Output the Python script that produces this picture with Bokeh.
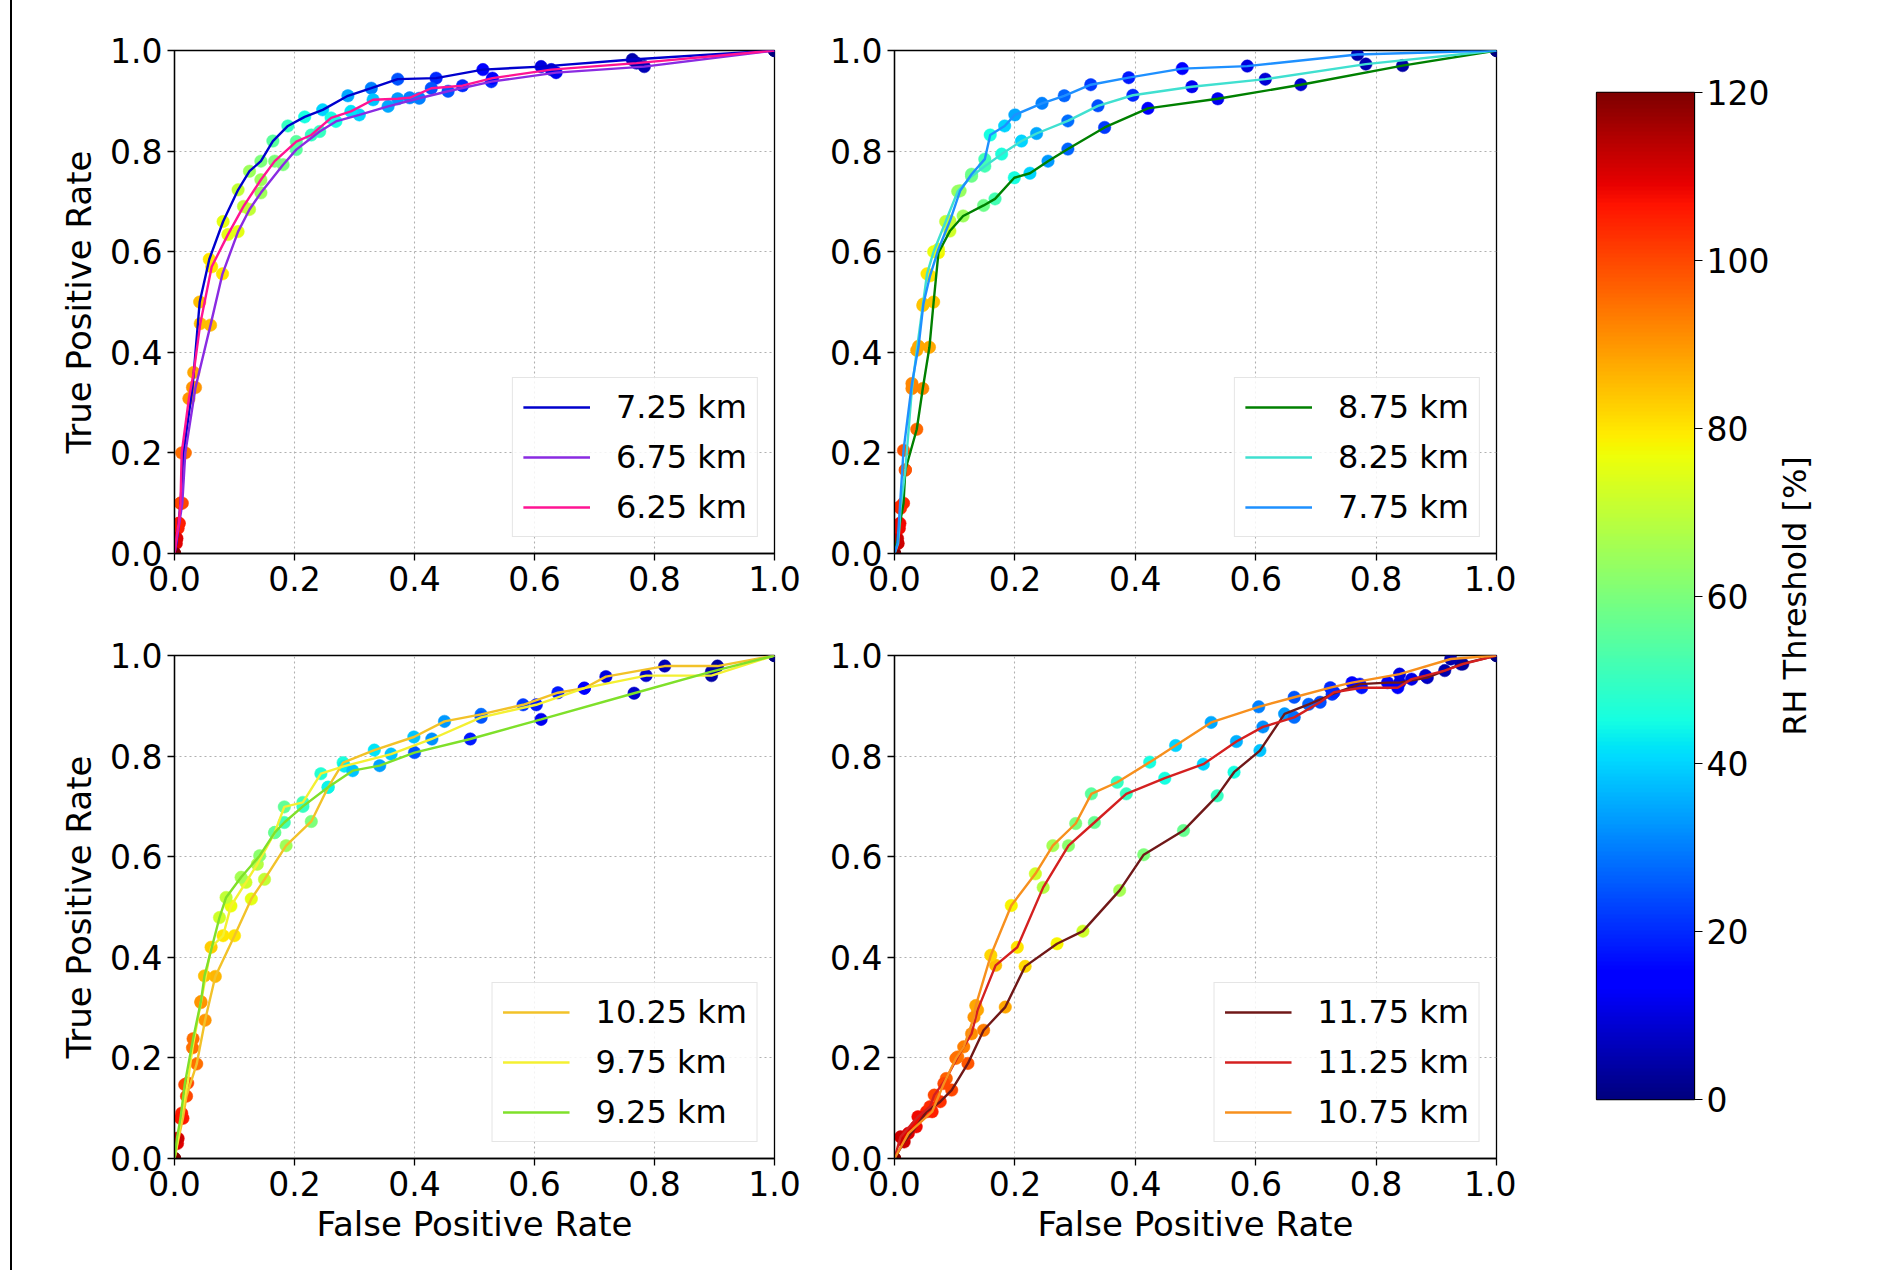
import numpy as np
from bokeh.plotting import figure
from bokeh.models import (Legend, LegendItem, LinearColorMapper, ColumnDataSource,
                          FixedTicker, NumeralTickFormatter, Range1d, Div)
from bokeh.layouts import row, column
from bokeh.transform import linear_cmap
from bokeh.embed import file_html
from bokeh.resources import INLINE

# ---------------- data ----------------
TICKS = [0.0, 0.2, 0.4, 0.6, 0.8, 1.0]
CB_TICKS = [0, 20, 40, 60, 80, 100, 120]

# top-left panel
FPR_725 = [0.0, 0.003, 0.006, 0.010, 0.015, 0.030, 0.042, 0.058, 0.081, 0.106, 0.125, 0.144, 0.164, 0.189, 0.217, 0.247, 0.289, 0.328, 0.372, 0.436, 0.514, 0.611, 0.763, 1.0]
TPR_725 = [0.0, 0.02, 0.05, 0.10, 0.20, 0.33, 0.50, 0.585, 0.66, 0.723, 0.76, 0.78, 0.82, 0.85, 0.868, 0.882, 0.91, 0.925, 0.943, 0.945, 0.962, 0.968, 0.982, 1.0]
THR_725 = [120, 110, 105, 100, 95, 90, 85, 80, 75, 70, 65, 60, 55, 50, 45, 40, 35, 30, 25, 20, 15, 10, 5, 0]

FPR_675 = [0.0, 0.004, 0.008, 0.013, 0.018, 0.035, 0.060, 0.080, 0.106, 0.125, 0.144, 0.181, 0.203, 0.242, 0.269, 0.308, 0.356, 0.408, 0.456, 0.528, 0.636, 0.783, 1.0]
TPR_675 = [0.0, 0.03, 0.06, 0.10, 0.20, 0.33, 0.454, 0.556, 0.64, 0.684, 0.717, 0.773, 0.803, 0.839, 0.859, 0.872, 0.889, 0.905, 0.919, 0.938, 0.956, 0.968, 1.0]
THR_675 = [120, 110, 105, 100, 95, 90, 85, 80, 75, 70, 65, 60, 55, 50, 45, 40, 35, 30, 25, 20, 12, 6, 0]

FPR_625 = [0.0, 0.003, 0.007, 0.010, 0.012, 0.024, 0.032, 0.043, 0.062, 0.089, 0.115, 0.144, 0.167, 0.203, 0.228, 0.261, 0.294, 0.331, 0.372, 0.392, 0.428, 0.480, 0.530, 0.628, 0.770, 1.0]
TPR_625 = [0.0, 0.03, 0.06, 0.10, 0.20, 0.308, 0.36, 0.457, 0.57, 0.634, 0.69, 0.743, 0.78, 0.819, 0.832, 0.866, 0.879, 0.902, 0.904, 0.906, 0.925, 0.93, 0.945, 0.962, 0.975, 1.0]
THR_625 = [120, 110, 105, 100, 95, 90, 88, 85, 80, 75, 70, 65, 60, 55, 50, 45, 42, 38, 33, 30, 25, 20, 15, 10, 5, 0]

# top-right panel
FPR_875 = [0.0, 0.005, 0.009, 0.015, 0.018, 0.037, 0.047, 0.058, 0.065, 0.073, 0.092, 0.114, 0.148, 0.167, 0.199, 0.225, 0.255, 0.288, 0.349, 0.421, 0.537, 0.675, 0.844, 1.0]
TPR_875 = [0.0, 0.03, 0.06, 0.10, 0.166, 0.247, 0.328, 0.41, 0.50, 0.598, 0.641, 0.671, 0.692, 0.705, 0.747, 0.756, 0.78, 0.804, 0.847, 0.885, 0.904, 0.932, 0.97, 1.0]
THR_875 = [120, 112, 108, 104, 100, 96, 92, 88, 84, 78, 72, 65, 58, 52, 45, 40, 33, 27, 22, 15, 12, 8, 4, 0]

FPR_825 = [0.0, 0.006, 0.008, 0.010, 0.018, 0.029, 0.037, 0.047, 0.054, 0.065, 0.085, 0.105, 0.128, 0.150, 0.178, 0.211, 0.236, 0.288, 0.338, 0.396, 0.494, 0.616, 0.783, 1.0]
TPR_825 = [0.0, 0.02, 0.05, 0.09, 0.166, 0.328, 0.404, 0.493, 0.556, 0.60, 0.66, 0.72, 0.75, 0.77, 0.794, 0.82, 0.835, 0.86, 0.89, 0.911, 0.928, 0.943, 0.973, 1.0]
THR_825 = [120, 112, 108, 104, 98, 92, 88, 84, 80, 76, 70, 64, 58, 52, 46, 40, 35, 28, 24, 20, 12, 9, 5, 0]

FPR_775 = [0.0, 0.005, 0.007, 0.009, 0.015, 0.029, 0.040, 0.048, 0.059, 0.073, 0.092, 0.109, 0.128, 0.150, 0.159, 0.183, 0.200, 0.245, 0.282, 0.326, 0.389, 0.478, 0.586, 0.769, 1.0]
TPR_775 = [0.0, 0.02, 0.056, 0.093, 0.205, 0.338, 0.412, 0.496, 0.552, 0.605, 0.661, 0.721, 0.754, 0.784, 0.832, 0.85, 0.872, 0.895, 0.91, 0.932, 0.946, 0.964, 0.969, 0.992, 1.0]
THR_775 = [120, 112, 108, 104, 98, 92, 88, 84, 80, 76, 70, 64, 58, 52, 45, 40, 35, 30, 27, 22, 18, 14, 10, 5, 0]

# bottom-left panel
FPR_1025 = [0.0, 0.005, 0.014, 0.020, 0.037, 0.051, 0.068, 0.100, 0.128, 0.150, 0.186, 0.228, 0.256, 0.281, 0.333, 0.399, 0.450, 0.511, 0.581, 0.639, 0.683, 0.719, 0.817, 0.905, 1.0]
TPR_1025 = [0.0, 0.03, 0.08, 0.124, 0.188, 0.275, 0.362, 0.443, 0.516, 0.555, 0.622, 0.67, 0.738, 0.787, 0.812, 0.838, 0.869, 0.883, 0.902, 0.926, 0.935, 0.958, 0.979, 0.979, 1.0]
THR_1025 = [120, 110, 105, 100, 95, 90, 86, 80, 75, 70, 65, 60, 52, 46, 42, 38, 33, 28, 22, 18, 15, 10, 6, 3, 0]

FPR_975 = [0.0, 0.006, 0.012, 0.022, 0.030, 0.044, 0.061, 0.081, 0.094, 0.119, 0.138, 0.167, 0.183, 0.214, 0.244, 0.283, 0.361, 0.429, 0.511, 0.603, 0.683, 0.786, 0.895, 1.0]
TPR_975 = [0.0, 0.04, 0.09, 0.15, 0.22, 0.31, 0.42, 0.443, 0.502, 0.549, 0.585, 0.648, 0.699, 0.708, 0.765, 0.78, 0.804, 0.834, 0.877, 0.902, 0.935, 0.96, 0.96, 1.0]
THR_975 = [120, 110, 105, 100, 95, 90, 83, 80, 76, 72, 68, 62, 56, 52, 47, 43, 38, 32, 25, 18, 14, 8, 4, 0]

FPR_925 = [0.0, 0.004, 0.010, 0.017, 0.031, 0.044, 0.050, 0.075, 0.086, 0.111, 0.142, 0.167, 0.183, 0.214, 0.256, 0.297, 0.342, 0.400, 0.493, 0.611, 0.766, 0.895, 1.0]
TPR_925 = [0.0, 0.04, 0.08, 0.147, 0.238, 0.312, 0.363, 0.479, 0.519, 0.559, 0.602, 0.648, 0.668, 0.70, 0.738, 0.771, 0.781, 0.807, 0.834, 0.873, 0.925, 0.968, 1.0]
THR_925 = [120, 112, 106, 100, 95, 90, 85, 72, 70, 66, 62, 56, 52, 50, 44, 38, 34, 25, 18, 12, 8, 4, 0]

# bottom-right panel
FPR_1175 = [0.0, 0.016, 0.036, 0.053, 0.076, 0.095, 0.122, 0.148, 0.184, 0.217, 0.270, 0.313, 0.374, 0.414, 0.480, 0.536, 0.564, 0.607, 0.648, 0.688, 0.727, 0.773, 0.819, 0.839, 0.885, 0.941, 1.0]
TPR_1175 = [0.0, 0.033, 0.063, 0.093, 0.113, 0.136, 0.189, 0.255, 0.301, 0.382, 0.427, 0.452, 0.533, 0.604, 0.652, 0.721, 0.768, 0.811, 0.884, 0.903, 0.923, 0.943, 0.946, 0.946, 0.956, 0.983, 1.0]
THR_1175 = [120, 112, 108, 105, 103, 100, 98, 93, 88, 82, 78, 72, 66, 60, 57, 50, 45, 38, 33, 27, 22, 17, 13, 10, 7, 4, 0]

FPR_1125 = [0.0, 0.010, 0.039, 0.059, 0.066, 0.086, 0.105, 0.128, 0.138, 0.168, 0.204, 0.247, 0.289, 0.332, 0.385, 0.449, 0.513, 0.568, 0.612, 0.664, 0.707, 0.730, 0.776, 0.836, 0.859, 0.882, 0.914, 0.944, 1.0]
TPR_1125 = [0.0, 0.043, 0.083, 0.103, 0.126, 0.159, 0.202, 0.248, 0.295, 0.384, 0.42, 0.539, 0.622, 0.668, 0.725, 0.756, 0.784, 0.829, 0.858, 0.877, 0.907, 0.927, 0.936, 0.936, 0.953, 0.96, 0.97, 0.983, 1.0]
THR_1125 = [120, 112, 108, 104, 100, 97, 94, 91, 88, 85, 80, 68, 62, 57, 50, 45, 40, 36, 32, 28, 24, 20, 17, 14, 11, 8, 5, 3, 0]

FPR_1075 = [0.0, 0.023, 0.0625, 0.082, 0.102, 0.115, 0.132, 0.135, 0.160, 0.194, 0.234, 0.263, 0.301, 0.327, 0.370, 0.424, 0.467, 0.526, 0.605, 0.664, 0.724, 0.760, 0.839, 0.924, 1.0]
TPR_1075 = [0.0, 0.05, 0.093, 0.149, 0.199, 0.222, 0.281, 0.304, 0.404, 0.503, 0.566, 0.622, 0.666, 0.725, 0.748, 0.788, 0.821, 0.867, 0.898, 0.917, 0.936, 0.946, 0.963, 0.993, 1.0]
THR_1075 = [120, 110, 105, 100, 95, 93, 90, 88, 82, 78, 72, 66, 60, 55, 50, 45, 40, 35, 30, 25, 20, 15, 10, 5, 0]

LABELS_TL = ["7.25 km", "6.75 km", "6.25 km"]
LABELS_TR = ["8.75 km", "8.25 km", "7.75 km"]
LABELS_BL = ["10.25 km", "9.75 km", "9.25 km"]
LABELS_BR = ["11.75 km", "11.25 km", "10.75 km"]

COLORS_TL = ["mediumblue", "#8a2be2", "deeppink"]
COLORS_TR = ["green", "turquoise", "dodgerblue"]
COLORS_BL = ["#f2c229", "#f4f032", "#7fe02a"]
COLORS_BR = ["#701818", "#d42020", "#f7901e"]

FONT = "DejaVu Sans"


def jet_palette(n=256):
    v = np.linspace(0, 1, n)
    r = np.interp(v, [0, 0.35, 0.66, 0.89, 1], [0, 0, 1, 1, 0.5])
    g = np.interp(v, [0, 0.125, 0.375, 0.64, 0.91, 1], [0, 0, 1, 1, 0, 0])
    b = np.interp(v, [0, 0.11, 0.34, 0.65, 1], [0.5, 1, 1, 0, 0])
    return ["#%02x%02x%02x" % (int(round(255 * a)), int(round(255 * c)), int(round(255 * d)))
            for a, c, d in zip(r, g, b)]


JET = jet_palette()


def make_panel(curves, labels, colors, xlabel, ylabel, borders):
    left, right, top, bottom, fw = borders
    p = figure(frame_width=fw, frame_height=503,
               x_range=Range1d(0, 1), y_range=Range1d(0, 1),
               output_backend="svg", toolbar_location=None,
               min_border_left=left, min_border_right=right,
               min_border_top=top, min_border_bottom=bottom,
               background_fill_color="white", border_fill_color="white")
    for ax in (p.xaxis, p.yaxis):
        ax.ticker = FixedTicker(ticks=TICKS)
        ax.formatter = NumeralTickFormatter(format="0.0")
        ax.major_label_text_font = FONT
        ax.major_label_text_font_size = "33px"
        ax.major_label_text_color = "black"
        ax.major_tick_out = 7
        ax.major_tick_in = 0
        ax.minor_tick_out = 0
        ax.minor_tick_in = 0
        ax.major_tick_line_color = "black"
        ax.major_tick_line_width = 1.3
        ax.axis_line_color = "black"
        ax.axis_line_width = 1.3
        ax.major_label_standoff = 5
        ax.axis_label_text_font = FONT
        ax.axis_label_text_font_size = "34px"
        ax.axis_label_text_font_style = "normal"
        ax.axis_label_text_color = "black"
    p.xaxis.axis_label_standoff = 5
    p.yaxis.axis_label_standoff = 8
    if xlabel:
        p.xaxis.axis_label = "False Positive Rate"
    if ylabel:
        p.yaxis.axis_label = "True Positive Rate"
    p.outline_line_color = "black"
    p.outline_line_width = 1.3
    p.outline_line_alpha = 1.0
    p.grid.grid_line_color = "#b0b0b0"
    p.grid.grid_line_dash = "2 3"
    p.grid.grid_line_width = 1.1

    # markers first (coloured by RH threshold), lines on top
    for fpr, tpr, thr in curves:
        src = ColumnDataSource(dict(fpr=fpr, tpr=tpr, thr=thr))
        cmap = linear_cmap("thr", JET, 0, 120)
        p.scatter(x="fpr", y="tpr", source=src, marker="circle", size=12.5,
                  fill_color=cmap, line_color=cmap, line_width=0.5)
    items = []
    for (fpr, tpr, thr), lab, col in zip(curves, labels, colors):
        r = p.line(fpr, tpr, line_color=col, line_width=2.4)
        items.append(LegendItem(label=lab, renderers=[r]))
    leg = Legend(items=items, location="bottom_right")
    leg.label_text_font = FONT
    leg.label_text_font_size = "32px"
    leg.label_text_color = "black"
    leg.glyph_width = 67
    leg.glyph_height = 36
    leg.label_height = 36
    leg.spacing = 12
    leg.padding = 10
    leg.margin = 16
    leg.label_standoff = 26
    leg.border_line_color = "#cccccc"
    leg.border_line_width = 1.2
    leg.background_fill_alpha = 0.85
    p.add_layout(leg)
    return p


tl = make_panel([(FPR_725, TPR_725, THR_725), (FPR_675, TPR_675, THR_675), (FPR_625, TPR_625, THR_625)],
                LABELS_TL, COLORS_TL, False, True, (162, 40, 50, 52, 600))
tr = make_panel([(FPR_875, TPR_875, THR_875), (FPR_825, TPR_825, THR_825), (FPR_775, TPR_775, THR_775)],
                LABELS_TR, COLORS_TR, False, False, (80, 20, 50, 52, 602))
bl = make_panel([(FPR_1025, TPR_1025, THR_1025), (FPR_975, TPR_975, THR_975), (FPR_925, TPR_925, THR_925)],
                LABELS_BL, COLORS_BL, True, True, (162, 40, 50, 112, 600))
br = make_panel([(FPR_1175, TPR_1175, THR_1175), (FPR_1125, TPR_1125, THR_1125), (FPR_1075, TPR_1075, THR_1075)],
                LABELS_BR, COLORS_BR, True, False, (80, 20, 50, 112, 602))

# ---------------- colour bar ----------------
cb = figure(frame_width=98, frame_height=1007, x_range=Range1d(0, 1), y_range=Range1d(0, 120),
            output_backend="svg", toolbar_location=None,
            x_axis_location=None, y_axis_location="right",
            min_border_left=80, min_border_right=75, min_border_top=92, min_border_bottom=171,
            background_fill_color="white", border_fill_color="white")
grad = np.linspace(0, 120, 256).reshape(256, 1)
cb.image(image=[grad], x=0, y=0, dw=1, dh=120,
         color_mapper=LinearColorMapper(palette=JET, low=0, high=120))
cb.grid.visible = False
cb.outline_line_color = "black"
cb.outline_line_width = 1.3
cb.yaxis.ticker = FixedTicker(ticks=CB_TICKS)
cb.yaxis.major_label_text_font = FONT
cb.yaxis.major_label_text_font_size = "33px"
cb.yaxis.major_label_text_color = "black"
cb.yaxis.major_tick_out = 8
cb.yaxis.major_tick_in = 0
cb.yaxis.minor_tick_out = 0
cb.yaxis.minor_tick_in = 0
cb.yaxis.major_tick_line_color = "black"
cb.yaxis.axis_line_color = "black"
cb.yaxis.major_label_standoff = 4

# colour-bar title: a left-side axis label of a thin neighbouring figure (reads bottom-to-top)
lbl = figure(frame_width=1, frame_height=1007, x_range=Range1d(0, 1), y_range=Range1d(0, 120),
             output_backend="svg", toolbar_location=None,
             x_axis_location=None, y_axis_location="left",
             min_border_left=44, min_border_right=67, min_border_top=92, min_border_bottom=171,
             background_fill_color="white", border_fill_color="white")
lbl.grid.visible = False
lbl.outline_line_color = None
lbl.yaxis.ticker = FixedTicker(ticks=[])
lbl.yaxis.axis_line_color = None
lbl.yaxis.major_tick_out = 0
lbl.yaxis.major_tick_in = 0
lbl.yaxis.minor_tick_out = 0
lbl.yaxis.minor_tick_in = 0
lbl.yaxis.major_label_standoff = 0
lbl.yaxis.axis_label = "RH Threshold [%]"
lbl.yaxis.axis_label_text_font = FONT
lbl.yaxis.axis_label_text_font_size = "32px"
lbl.yaxis.axis_label_text_font_style = "normal"
lbl.yaxis.axis_label_text_color = "black"
lbl.yaxis.axis_label_standoff = 7

edge = Div(width=12, height=1270, margin=0,
           styles={"border-right": "2px solid black", "box-sizing": "border-box",
                   "padding": "0px", "margin": "0px"})

layout = row(edge, column(row(tl, tr), row(bl, br)), cb, lbl)

open("out.html", "w").write(file_html(layout, INLINE))
